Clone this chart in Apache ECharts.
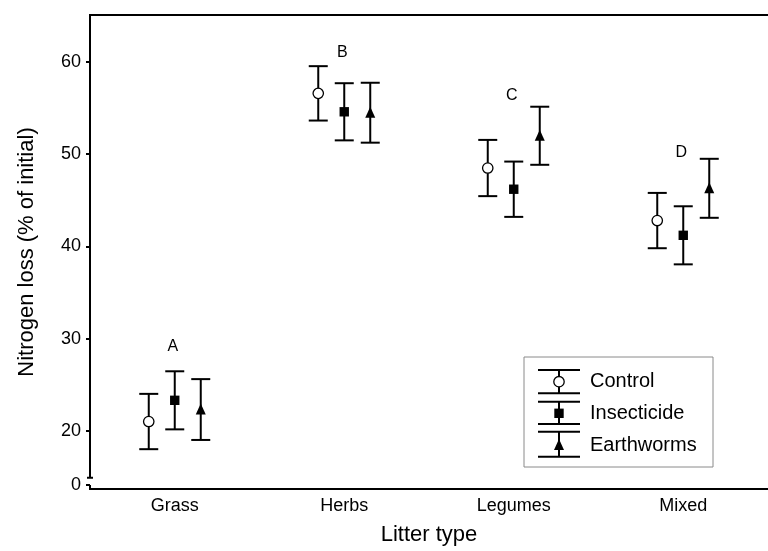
<!DOCTYPE html>
<html><head><meta charset="utf-8">
<script src="https://cdn.jsdelivr.net/npm/echarts@6/dist/echarts.min.js"></script>
<style>html,body{margin:0;padding:0;background:#fff}#c{width:768px;height:551px}</style>
</head><body><div id="c"></div>
<script>
// ---- data ----
const categories = ['Grass', 'Herbs', 'Legumes', 'Mixed'];
const seriesNames = ['Control', 'Insecticide', 'Earthworms'];
const controlMean = [21.0, 56.6, 48.5, 42.8];
const controlErr = [3.0, 2.95, 3.05, 3.0];
const insecticideMean = [23.3, 54.6, 46.2, 41.2];
const insecticideErr = [3.15, 3.1, 3.0, 3.15];
const earthwormsMean = [22.3, 54.5, 52.0, 46.3];
const earthwormsErr = [3.3, 3.25, 3.15, 3.2];
const groupLetters = ['A', 'B', 'C', 'D'];
const letterY = [29.1, 61.0, 56.4, 50.2];
const yTickValues = [14.11, 20, 30, 40, 50, 60];
const yTickLabels = ['0', '20', '30', '40', '50', '60'];
const yMin = 13.68, yMax = 65.1, yBreakTop = 14.9;

const FONT = '"Liberation Sans", Arial, Helvetica, sans-serif';
const chart = echarts.init(document.getElementById('c'), null, {renderer: 'canvas'});

function markerShape(kind, cx, cy) {
  if (kind === 'circle') return {type: 'circle', shape: {cx, cy, r: 5.2}, style: {fill: '#fff', stroke: '#000', lineWidth: 1.3}};
  if (kind === 'square') return {type: 'rect', shape: {x: cx - 4.7, y: cy - 4.7, width: 9.4, height: 9.4}, style: {fill: '#000'}};
  return {type: 'polygon', shape: {points: [[cx, cy - 6], [cx + 5, cy + 5], [cx - 5, cy + 5]]}, style: {fill: '#000'}};
}

function errSeries(name, means, errs, offset, marker) {
  return {
    type: 'custom', name, silent: true, clip: false,
    data: means.map((m, i) => [i, m, errs[i]]),
    encode: {x: 0, y: 1},
    renderItem: (params, api) => {
      const i = api.value(0), m = api.value(1), e = api.value(2);
      const c = api.coord([i, m]);
      const hi = api.coord([i, m + e])[1];
      const lo = api.coord([i, m - e])[1];
      const x = c[0] + offset, cw = 9.5;
      const st = {stroke: '#000', lineWidth: 2};
      return {type: 'group', children: [
        {type: 'line', shape: {x1: x, y1: hi, x2: x, y2: lo}, style: st},
        {type: 'line', shape: {x1: x - cw, y1: hi, x2: x + cw, y2: hi}, style: st},
        {type: 'line', shape: {x1: x - cw, y1: lo, x2: x + cw, y2: lo}, style: st},
        markerShape(marker, x, c[1])
      ]};
    }
  };
}

const axisSeries = {
  type: 'custom', silent: true, clip: false,
  data: [[0, yMin]],
  renderItem: (params, api) => {
    const x = params.coordSys.x;
    const top = api.coord([0, yMax])[1];
    const brk = api.coord([0, yBreakTop])[1];
    const z = api.coord([0, yTickValues[0]])[1];
    const bot = api.coord([0, yMin])[1];
    const st = {stroke: '#000', lineWidth: 2};
    return {type: 'group', children: [
      {type: 'line', shape: {x1: x, y1: top - 1, x2: x, y2: brk}, style: st},
      {type: 'line', shape: {x1: x - 3, y1: brk, x2: x + 3, y2: brk}, style: st},
      {type: 'line', shape: {x1: x, y1: z, x2: x, y2: bot + 1}, style: st}
    ]};
  }
};

const letterSeries = {
  type: 'custom', silent: true, clip: false,
  data: letterY.map((v, i) => [i, v]),
  renderItem: (params, api) => {
    const c = api.coord([api.value(0), api.value(1)]);
    return {type: 'text', x: c[0] - 2, y: c[1], style: {
      text: groupLetters[params.dataIndex], font: '16px ' + FONT, fill: '#000',
      align: 'center', verticalAlign: 'middle'}};
  }
};

// legend drawn with graphic elements
const LX = 524, LY = 357;
const legendEls = [
  {type: 'rect', shape: {x: LX, y: LY, width: 189, height: 110}, style: {fill: '#fff', stroke: '#8a8a8a', lineWidth: 1}}
];
const legendRows = [
  {top: 370, bot: 393.3, mid: 381.7, kind: 'circle'},
  {top: 401.7, bot: 424, mid: 413.3, kind: 'square'},
  {top: 431.7, bot: 456.7, mid: 445, kind: 'triangle'}
];
legendRows.forEach((r, k) => {
  const cx = 559, hw = 21, st = {stroke: '#000', lineWidth: 2};
  legendEls.push({type: 'line', shape: {x1: cx, y1: r.top, x2: cx, y2: r.bot}, style: st});
  legendEls.push({type: 'line', shape: {x1: cx - hw, y1: r.top, x2: cx + hw, y2: r.top}, style: st});
  legendEls.push({type: 'line', shape: {x1: cx - hw, y1: r.bot, x2: cx + hw, y2: r.bot}, style: st});
  legendEls.push(markerShape(r.kind, cx, r.mid));
  legendEls.push({type: 'text', x: 590, y: r.mid, style: {text: seriesNames[k], font: '20px ' + FONT, fill: '#000', verticalAlign: 'middle'}});
});

const option = {
  backgroundColor: '#fff',
  animation: false,
  grid: {left: 90, top: 15, width: 686, bottom: 62, containLabel: false},
  xAxis: [{
    type: 'category', data: categories, position: 'bottom',
    name: 'Litter type', nameLocation: 'middle', nameGap: 35,
    nameTextStyle: {fontFamily: FONT, fontSize: 22, color: '#000'},
    axisLine: {onZero: false, lineStyle: {color: '#000', width: 2}},
    axisTick: {inside: true, alignWithLabel: true, length: 5, lineStyle: {color: '#000', width: 2}},
    axisLabel: {fontFamily: FONT, fontSize: 18, color: '#000', margin: 8},
    splitLine: {show: false}
  }, {
    type: 'category', data: categories, position: 'top',
    axisLine: {onZero: false, lineStyle: {color: '#000', width: 2}},
    axisTick: {inside: true, alignWithLabel: true, length: 5, lineStyle: {color: '#000', width: 2}},
    axisLabel: {show: false}, splitLine: {show: false}
  }],
  yAxis: {
    type: 'value', min: yMin, max: yMax,
    name: 'Nitrogen loss (% of initial)', nameLocation: 'middle', nameGap: 52,
    nameTextStyle: {fontFamily: FONT, fontSize: 22, color: '#000'},
    axisLine: {show: false},
    axisTick: {show: true, customValues: yTickValues, length: 4, lineStyle: {color: '#000', width: 2}},
    axisLabel: {customValues: yTickValues, fontFamily: FONT, fontSize: 18, color: '#000', margin: 9,
      formatter: v => { const k = yTickValues.findIndex(t => Math.abs(t - v) < 1e-6); return k >= 0 ? yTickLabels[k] : ''; }},
    splitLine: {show: false}
  },
  series: [
    axisSeries,
    errSeries(seriesNames[0], controlMean, controlErr, -26, 'circle'),
    errSeries(seriesNames[1], insecticideMean, insecticideErr, 0, 'square'),
    errSeries(seriesNames[2], earthwormsMean, earthwormsErr, 26, 'triangle'),
    letterSeries
  ],
  graphic: {elements: legendEls}
};
chart.setOption(option);
</script></body></html>
